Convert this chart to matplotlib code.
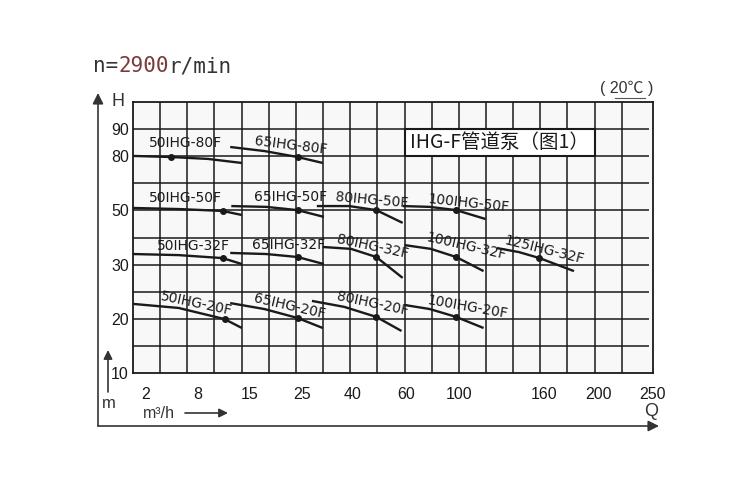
import matplotlib.pyplot as plt
from matplotlib.lines import Line2D
from matplotlib.patches import Rectangle

# Chart is drawn on the printed grid: x = grid column (0..19), y = grid row (0..10)
q_tick_pos = [0.47, 2.37, 4.30, 6.24, 8.10, 10.07, 12.02, 15.12, 17.14, 19.15]
q_tick_labels = ["2", "8", "15", "25", "40", "60", "100", "160", "200", "250"]
h_tick_pos = [9, 8, 6, 4, 2, 0]
h_tick_labels = ["90", "80", "50", "30", "20", "10"]

pump_names = [
    "50IHG-80F", "65IHG-80F",
    "50IHG-50F", "65IHG-50F", "80IHG-50F", "100IHG-50F",
    "50IHG-32F", "65IHG-32F", "80IHG-32F", "100IHG-32F", "125IHG-32F",
    "50IHG-20F", "65IHG-20F", "80IHG-20F", "100IHG-20F",
]
curve_x = [
    [0, 1.40, 2.76, 4.01], [3.58, 4.84, 6.06, 6.99],
    [0, 1.68, 3.30, 4.01], [3.62, 4.91, 6.06, 7.03], [6.77, 7.96, 8.96, 9.93], [9.93, 10.93, 11.90, 12.99],
    [0, 1.68, 3.30, 4.01], [3.58, 4.91, 6.06, 7.03], [6.99, 8.03, 8.96, 9.93], [10.0, 10.97, 11.90, 12.91],
    [13.40, 14.22, 14.97, 16.24],
    [0, 1.68, 3.37, 4.01], [3.58, 4.84, 6.06, 6.99], [6.59, 7.78, 8.96, 9.89], [10.0, 10.93, 11.90, 12.91],
]
curve_y = [
    [8.01, 7.97, 7.90, 7.75], [8.34, 8.19, 7.97, 7.75],
    [6.09, 6.05, 5.98, 5.83], [6.16, 6.13, 6.01, 5.76], [6.16, 6.16, 6.01, 5.54], [6.16, 6.13, 6.01, 5.68],
    [4.39, 4.35, 4.24, 4.02], [4.43, 4.39, 4.28, 4.02], [4.65, 4.58, 4.28, 3.51], [4.72, 4.58, 4.28, 3.76],
    [4.61, 4.46, 4.24, 3.76],
    [2.55, 2.40, 1.99, 1.66], [2.58, 2.36, 2.03, 1.66], [2.66, 2.44, 2.07, 1.55], [2.51, 2.36, 2.07, 1.66],
]
duty_x = [1.40, 6.06, 3.30, 6.06, 8.96, 11.90, 3.30, 6.06, 8.96, 11.90, 14.97, 3.37, 6.06, 8.96, 11.90]
duty_y = [7.97, 7.97, 5.98, 6.01, 6.01, 6.01, 4.24, 4.28, 4.28, 4.28, 4.24, 1.99, 2.03, 2.07, 2.07]

# label placement (layout only)
label_x = [1.94, 5.81, 1.94, 5.81, 8.78, 12.35, 2.22, 5.73, 8.82, 12.28, 15.15, 2.33, 5.77, 8.82, 12.31]
label_y = [8.49, 8.38, 6.46, 6.49, 6.38, 6.27, 4.69, 4.72, 4.65, 4.69, 4.54, 2.55, 2.47, 2.55, 2.44]
label_rot = [0, -7, 0, 0, -5, -6, 0, 0, -12, -13, -14, -12, -13, -12, -10]

plt.rcParams['font.family'] = ['Liberation Sans', 'Noto Sans CJK SC', 'DejaVu Sans']
ink = "#1a1a1a"

fig = plt.figure(figsize=(7.5, 5), dpi=100)
ax = fig.add_axes([133 / 750, 1 - 373 / 500, 520 / 750, 271 / 500])
ax.set_facecolor("#f8f8f8")
ax.set_xlim(0, 19)
ax.set_ylim(0, 10)

# grid
ax.vlines(range(1, 19), 0, 10, color=ink, lw=1.1, zorder=1)
ax.hlines(range(1, 10), 0, 19, color=ink, lw=1.1, zorder=1)
ax.set_xticks(q_tick_pos, q_tick_labels)
ax.set_yticks(h_tick_pos, h_tick_labels)
ax.tick_params(which="both", length=0)
ax.tick_params(axis="x", pad=10, labelsize=11.5, colors=ink)
ax.tick_params(axis="y", pad=3, labelsize=11.5, colors=ink)
for s in ax.spines.values():
    s.set_color(ink)
    s.set_linewidth(1.3)

# pump curves
for i in range(len(pump_names)):
    ax.plot(curve_x[i], curve_y[i], color=ink, lw=1.7, zorder=5, solid_capstyle="butt")
    ax.plot(duty_x[i], duty_y[i], "o", color=ink, ms=4, zorder=6)
    ax.text(label_x[i], label_y[i], pump_names[i], rotation=label_rot[i], rotation_mode="anchor",
            ha="center", va="center", fontsize=10, family="DejaVu Sans", color=ink, zorder=7)

# title box
ax.add_patch(Rectangle((10, 8), 7, 1, facecolor="white", edgecolor=ink, lw=1.5, zorder=3))
ax.text(13.5, 8.5, "IHG-F管道泵（图1）", ha="center", va="center", fontsize=14,
        family=["Noto Sans CJK SC"], color=ink, zorder=4)


def fx(px):
    return px / 750


def fy(py):
    return 1 - py / 500


arrow = dict(arrowstyle="-|>", color="#333333", lw=1.2, mutation_scale=16, shrinkA=0, shrinkB=0)
ax.annotate("", xy=(fx(98), fy(93)), xytext=(fx(98), fy(426)), xycoords="figure fraction",
            textcoords="figure fraction", arrowprops=arrow, annotation_clip=False)
ax.annotate("", xy=(fx(659), fy(426)), xytext=(fx(98), fy(426)), xycoords="figure fraction",
            textcoords="figure fraction", arrowprops=arrow, annotation_clip=False)
ax.annotate("", xy=(fx(108), fy(350)), xytext=(fx(108), fy(392)), xycoords="figure fraction",
            textcoords="figure fraction", arrowprops=dict(arrow, mutation_scale=13), annotation_clip=False)
ax.annotate("", xy=(fx(228), fy(413)), xytext=(fx(185), fy(413)), xycoords="figure fraction",
            textcoords="figure fraction", arrowprops=dict(arrow, mutation_scale=13), annotation_clip=False)

fig.text(fx(118), fy(101), "H", ha="center", va="center", fontsize=13, color="#333333")
fig.text(fx(109), fy(404), "m", ha="center", va="center", fontsize=12, color="#333333")
fig.text(fx(143), fy(413), "m³/h", ha="left", va="center", fontsize=11.5, color="#333333")
fig.text(fx(651), fy(411), "Q", ha="center", va="center", fontsize=13, color="#333333")
fig.text(fx(627), fy(88), "( 20℃ )", ha="center", va="center", fontsize=11.5, color="#333333")
fig.add_artist(Line2D([fx(615), fx(645)], [fy(98), fy(98)], color="#555555", lw=0.8))

mono = "DejaVu Sans Mono"
fig.text(fx(93), fy(66), "n=", ha="left", va="center", fontsize=15, family=mono, color="#333333")
fig.text(fx(118), fy(66), "2900", ha="left", va="center", fontsize=15, family=mono, color="#7a3b3b")
fig.text(fx(168), fy(66), "r/min", ha="left", va="center", fontsize=15, family=mono, color="#333333")

fig.savefig("out.png")
